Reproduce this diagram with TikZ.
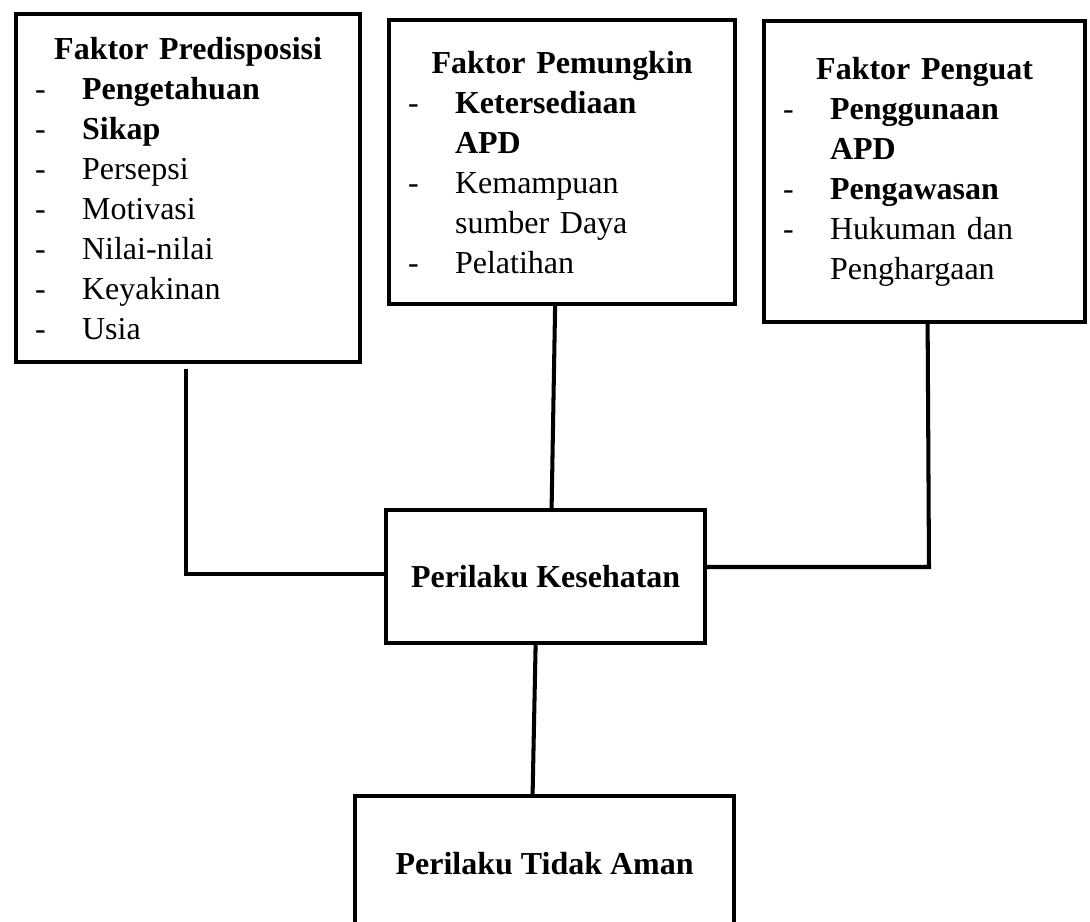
\documentclass[tikz,border=0pt]{standalone}
\usepackage{fontspec}
\setmainfont{Liberation Serif}
\usetikzlibrary{positioning}
\newcommand{\judul}[1]{\makebox[\hsize]{\textbf{#1}}}
\newcommand{\butir}[1]{\hspace*{0.19cm}\makebox[0.47cm][l]{-}#1}
\newcommand{\lanjut}[1]{\hspace*{0.66cm}#1}

\begin{document}
\begin{tikzpicture}[
    kotak/.style={draw,line width=1.2pt,anchor=north west,inner sep=0pt,
      font=\fontsize{9.1}{11.38}\selectfont},
    daftar/.style={kotak,align=left},
    garis/.style={line width=1.15pt}]
        \useasboundingbox (0,0) rectangle (10.90,-9.22);
        % faktor-faktor
        \node[daftar,text width=3.44cm,minimum height=3.48cm] (pre) at (0.14,-0.12)
          {\judul{Faktor Predisposisi}\\ \butir{\textbf{Pengetahuan}}\\ \butir{\textbf{Sikap}}\\
           \butir{Persepsi}\\ \butir{Motivasi}\\ \butir{Nilai-nilai}\\ \butir{Keyakinan}\\ \butir{Usia}};
        \node[daftar,text width=3.46cm,minimum height=2.84cm] (pem) at (3.87,-0.18)
          {\judul{Faktor Pemungkin}\\ \butir{\textbf{Ketersediaan}}\\ \lanjut{\textbf{APD}}\\
           \butir{Kemampuan}\\ \lanjut{sumber Daya}\\ \butir{Pelatihan}};
        \node[daftar,text width=3.21cm,minimum height=3.01cm] (pen) at (7.62,-0.19)
          {\judul{Faktor Penguat}\\ \butir{\textbf{Penggunaan}}\\ \lanjut{\textbf{APD}}\\
           \butir{\textbf{Pengawasan}}\\ \butir{Hukuman dan}\\ \lanjut{Penghargaan}};
        % perilaku
        \node[kotak,minimum width=3.19cm,minimum height=1.33cm] (kes) at (3.84,-5.08) {\textbf{Perilaku Kesehatan}};
        \node[kotak,minimum width=3.79cm,minimum height=1.36cm] (aman) at (3.53,-7.94) {\textbf{Perilaku Tidak Aman}};
        % garis penghubung
        \coordinate (sudut) at (9.29,-5.67);
        \draw[garis] ([xshift=-0.02cm,yshift=-0.05cm]pre.south) |- ([yshift=0.03cm]kes.west);
        \draw[garis] ([xshift=-0.07cm]pem.south) -- ([xshift=0.06cm]kes.north);
        \draw[garis] ([xshift=0.03cm,yshift=0.04cm]pen.south) -- (sudut) -- (sudut -| kes.east);
        \draw[garis] ([xshift=-0.10cm]kes.south) -- ([xshift=-0.12cm]aman.north);
      \end{tikzpicture}
\end{document}
